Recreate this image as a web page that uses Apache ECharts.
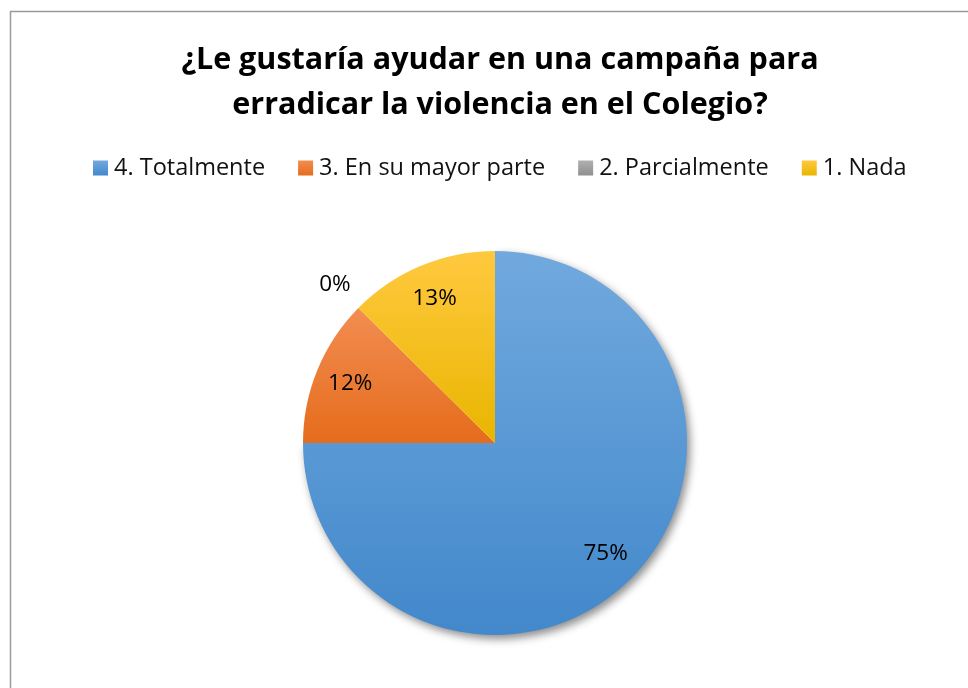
<!DOCTYPE html>
<html>
<head>
<meta charset="utf-8">
<script src="https://cdn.jsdelivr.net/npm/echarts@6/dist/echarts.min.js"></script>
<style>
html,body{margin:0;padding:0;background:#fff;}
#c{width:968px;height:688px;}
</style>
</head>
<body>
<div id="c"></div>
<script>
const titleText = '¿Le gustaría ayudar en una campaña para\nerradicar la violencia en el Colegio?';
const categories = ['4. Totalmente', '3. En su mayor parte', '2. Parcialmente', '1. Nada'];
const values = [75, 12.4, 0, 12.6];
const colorTop = ['#71a9de', '#f28d52', '#b0b0b0', '#ffc93f'];
const colorBottom = ['#4288cb', '#e56c1c', '#8f8f8f', '#e9b500'];

const FONT = '"Open Sans", "Noto Sans", sans-serif';
const grad = i => new echarts.graphic.LinearGradient(0, 0, 0, 1, [
  {offset: 0, color: colorTop[i]}, {offset: 1, color: colorBottom[i]}
]);
const center = [495, 443];
const R = 192;

const mainData = categories.map((n, i) => ({
  name: n, value: values[i],
  itemStyle: Object.assign({color: grad(i)}, i === 0 ? {
    shadowBlur: 9, shadowOffsetX: 3, shadowOffsetY: 4, shadowColor: 'rgba(0,0,0,0.45)'
  } : {})
}));
const labelFmt = p => Math.round(p.percent) + '%';
const labelStyle = {fontFamily: FONT, fontSize: 22.5, color: '#000'};

const chart = echarts.init(document.getElementById('c'));
chart.setOption({
  backgroundColor: '#fff',
  animation: false,
  graphic: [{
    type: 'rect', silent: true, z: -10,
    shape: {x: 10.5, y: 11.5, width: 1000, height: 700},
    style: {fill: 'none', stroke: '#9a9a9a', lineWidth: 1.5}
  }],
  title: {
    text: titleText, left: 495, textAlign: 'center', top: 33,
    textStyle: {fontFamily: FONT, fontSize: 30.5, fontWeight: 'bold', color: '#000', lineHeight: 45}
  },
  legend: {
    data: categories, top: 151, left: 88,
    itemWidth: 15, itemHeight: 15, itemGap: 33, icon: 'rect',
    textStyle: {fontFamily: FONT, fontSize: 23.5, color: '#111', padding: [0, 0, 0, 1]},
    selectedMode: false
  },
  series: [
    {
      type: 'pie', center: center, radius: [0, R], startAngle: 90, clockwise: true,
      data: mainData, label: {show: false}, labelLine: {show: false}, silent: true,
      emphasis: {disabled: true}
    },
    {
      type: 'pie', center: center, radius: [115, R], startAngle: 90, clockwise: true,
      silent: true, emphasis: {disabled: true}, legendHoverLink: false,
      itemStyle: {color: 'rgba(0,0,0,0)'},
      labelLine: {show: false},
      data: categories.map((n, i) => ({
        name: n, value: values[i],
        label: {show: values[i] > 0, position: 'inside', formatter: labelFmt, ...labelStyle}
      }))
    },
    {
      type: 'pie', center: center, radius: [202, 242], startAngle: 90, clockwise: true,
      silent: true, emphasis: {disabled: true}, legendHoverLink: false,
      itemStyle: {color: 'rgba(0,0,0,0)'},
      labelLine: {show: false},
      data: categories.map((n, i) => ({
        name: n, value: values[i],
        label: {show: values[i] === 0, position: 'inside', formatter: labelFmt, ...labelStyle}
      }))
    }
  ]
});
</script>
</body>
</html>
